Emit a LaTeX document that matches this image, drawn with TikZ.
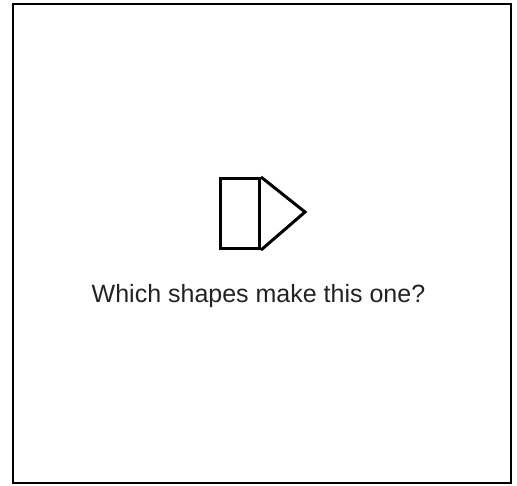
\documentclass[tikz,border=0pt]{standalone}
\usepackage{fontspec}
\setmainfont{Liberation Sans}
\usetikzlibrary{positioning}
\definecolor{InkBlack}{RGB}{0, 0, 0}
\definecolor{CaptionGray}{RGB}{34, 34, 34}

\begin{document}
\begin{tikzpicture}[x=1pt, y=-1pt,
    outline/.style={draw=InkBlack, line width=3pt, line join=miter},
    frame/.style={draw=InkBlack, line width=2pt}]
    \useasboundingbox (0,0) rectangle (517,485);

    % Frame
    \draw[frame] (13,4) rectangle (511,483);

    % Rectangle part
    \node[outline, minimum width=39pt, minimum height=70pt, inner sep=0pt,
          anchor=north west] (box) at (219,177) {};

    % Triangle part
    \coordinate (tip) at (305,212);
    \draw[outline] (box.north east) -- (tip) -- (box.south east);

    % Question
    \node[font=\fontsize{25}{30}\selectfont, text=CaptionGray, anchor=base]
        (question) at (258.5,302) {Which shapes make this one?};
\end{tikzpicture}
\end{document}
